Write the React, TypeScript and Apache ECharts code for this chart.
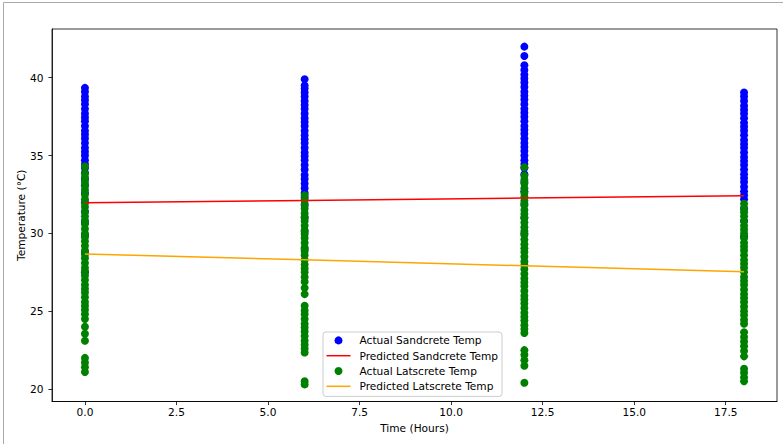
import React, { useEffect, useRef } from "react";
import * as echarts from "echarts";

// Time columns (hours)
const times = [0, 6, 12, 18];

// Actual Sandcrete temperatures per time column
const sandActual0 = [39.35, 39.1, 38.8, 38.55, 38.3, 38.0, 37.7, 37.45, 37.2, 36.9, 36.6, 36.35, 36.1, 35.8, 35.5, 35.25, 35.0, 34.7, 34.45, 34.2, 33.9, 33.5, 33.1, 32.6, 32.0, 31.4, 30.7, 29.9, 28.8, 27.5];
const sandActual6 = [39.9, 39.5, 39.3, 39.05, 38.8, 38.5, 38.25, 38.0, 37.7, 37.4, 37.15, 36.9, 36.6, 36.3, 36.05, 35.8, 35.5, 35.2, 34.95, 34.7, 34.4, 34.1, 33.75, 33.5, 33.2, 32.9, 32.6, 32.3, 31.8, 31.0, 30.1, 29.0];
const sandActual12 = [42.0, 41.4, 40.8, 40.5, 40.2, 39.95, 39.7, 39.4, 39.1, 38.85, 38.6, 38.3, 38.0, 37.75, 37.5, 37.2, 36.9, 36.65, 36.4, 36.1, 35.8, 35.55, 35.3, 35.0, 34.7, 34.45, 34.2, 33.8, 33.3, 32.7, 31.9, 31.0, 30.0];
const sandActual18 = [39.05, 38.8, 38.5, 38.2, 37.95, 37.7, 37.4, 37.1, 36.85, 36.6, 36.3, 36.0, 35.75, 35.5, 35.2, 34.9, 34.65, 34.4, 34.1, 33.8, 33.55, 33.3, 33.0, 32.7, 32.45, 32.2, 31.6, 30.8, 29.8];

// Actual Latscrete temperatures per time column
const latActual0 = [34.3, 33.85, 33.6, 33.3, 33.05, 32.8, 32.5, 32.2, 31.95, 31.7, 31.4, 31.1, 30.85, 30.6, 30.3, 30.0, 29.75, 29.5, 29.2, 28.9, 28.65, 28.4, 28.1, 27.8, 27.55, 27.3, 27.0, 26.7, 26.45, 26.2, 25.9, 25.6, 25.35, 25.1, 24.8, 24.5, 24.0, 23.55, 23.1, 22.0, 21.7, 21.4, 21.1];
const latActual6 = [32.45, 32.15, 31.9, 31.6, 31.3, 31.05, 30.8, 30.5, 30.2, 29.95, 29.7, 29.4, 29.1, 28.85, 28.6, 28.3, 28.0, 27.75, 27.5, 27.2, 26.9, 26.5, 26.1, 25.35, 25.05, 24.8, 24.5, 24.2, 23.95, 23.7, 23.4, 23.1, 22.85, 22.6, 22.35, 20.5, 20.3];
const latActual12 = [34.25, 33.7, 33.45, 33.2, 32.9, 32.6, 32.35, 32.1, 31.8, 31.5, 31.25, 31.0, 30.7, 30.4, 30.15, 29.9, 29.6, 29.3, 29.05, 28.8, 28.5, 28.2, 27.95, 27.7, 27.4, 27.1, 26.85, 26.6, 26.3, 26.0, 25.75, 25.5, 25.2, 24.9, 24.65, 24.4, 24.1, 23.85, 23.6, 22.5, 22.2, 21.85, 21.5, 20.4];
const latActual18 = [31.9, 31.6, 31.35, 31.1, 30.8, 30.5, 30.25, 30.0, 29.7, 29.4, 29.15, 28.9, 28.6, 28.3, 28.05, 27.8, 27.5, 27.2, 26.95, 26.7, 26.4, 26.1, 25.85, 25.6, 25.3, 25.0, 24.75, 24.45, 24.2, 23.65, 23.35, 23.05, 22.75, 22.45, 22.1, 21.3, 21.05, 20.75, 20.5];

// Predicted (regression) lines at each time column
const sandPredicted = [31.97, 32.12, 32.27, 32.42];
const latPredicted = [28.68, 28.30, 27.92, 27.54];

// Tick labels
const xTicks = [0, 2.5, 5, 7.5, 10, 12.5, 15, 17.5];
const yTicks = [20, 25, 30, 35, 40];

const seriesNames = [
  "Actual Sandcrete Temp",
  "Predicted Sandcrete Temp",
  "Actual Latscrete Temp",
  "Predicted Latscrete Temp",
];

const FONT = "DejaVu Sans";
const FS = 10.6;
const LINE_ICON = "path://M0,0H24V1.5H0Z";

function toPairs(cols: number[][]): [number, number][] {
  const out: [number, number][] = [];
  cols.forEach((vals, i) => vals.forEach((v) => out.push([times[i], v])));
  return out;
}

export default function App() {
  const ref = useRef<HTMLDivElement>(null);
  useEffect(() => {
    if (!ref.current) return;
    const chart = echarts.init(ref.current, undefined, { renderer: "svg" });
    const axisLine = { show: true, onZero: false, lineStyle: { color: "#000", width: 0.8 } };
    const tick = { show: true, length: 3.6, lineStyle: { color: "#000", width: 0.8 } };
    const nameTextStyle = { fontFamily: FONT, fontSize: FS, color: "#000" };
    chart.setOption({
      animation: false,
      backgroundColor: "#fff",
      grid: {
        left: 52,
        top: 29,
        right: 6,
        bottom: 42.5,
        show: true,
        borderColor: "#000",
        borderWidth: 0.8,
        containLabel: false,
      },
      xAxis: {
        type: "value",
        min: -0.9,
        max: 18.9,
        name: "Time (Hours)",
        nameLocation: "middle",
        nameGap: 21,
        nameMoveOverlap: false,
        nameTextStyle,
        axisLine,
        splitLine: { show: false },
        axisTick: { ...tick, customValues: xTicks },
        axisLabel: {
          customValues: xTicks,
          formatter: (v: number) => v.toFixed(1),
          margin: 5,
          fontFamily: FONT,
          fontSize: FS,
          color: "#000",
        },
      },
      yAxis: {
        type: "value",
        min: 19.2,
        max: 43.13,
        name: "Temperature (°C)",
        nameLocation: "middle",
        nameGap: 26,
        nameMoveOverlap: false,
        nameTextStyle,
        axisLine,
        splitLine: { show: false },
        axisTick: { ...tick, customValues: yTicks },
        axisLabel: {
          customValues: yTicks,
          formatter: (v: number) => String(v),
          margin: 8.5,
          fontFamily: FONT,
          fontSize: FS,
          color: "#000",
        },
      },
      legend: {
        orient: "vertical",
        left: 323,
        top: 332,
        itemWidth: 24,
        itemHeight: 8,
        itemGap: 3.3,
        padding: [2.4, 4, 4.1, 3.5],
        borderColor: "#cccccc",
        borderWidth: 1,
        borderRadius: 3,
        backgroundColor: "rgba(255,255,255,0.8)",
        textStyle: { fontFamily: FONT, fontSize: FS, color: "#000", lineHeight: 12, padding: [0, 0, 0, 4] },
        data: [
          { name: seriesNames[0], icon: "circle" },
          { name: seriesNames[1], icon: LINE_ICON },
          { name: seriesNames[2], icon: "circle" },
          { name: seriesNames[3], icon: LINE_ICON },
        ],
      },
      graphic: [
        { type: "line", shape: { x1: 3.5, y1: 2.5, x2: 783, y2: 2.5 }, style: { stroke: "#a8a8a8", lineWidth: 1 } },
        { type: "line", shape: { x1: 3.5, y1: 2.5, x2: 3.5, y2: 444 }, style: { stroke: "#a8a8a8", lineWidth: 1 } },
      ],
      series: [
        {
          name: seriesNames[0],
          type: "scatter",
          symbol: "circle",
          symbolSize: 8,
          itemStyle: { color: "#0000ff", opacity: 1 },
          data: toPairs([sandActual0, sandActual6, sandActual12, sandActual18]),
          z: 1,
        },
        {
          name: seriesNames[1],
          type: "line",
          symbol: "none",
          lineStyle: { color: "#ff0000", width: 1.5 },
          itemStyle: { color: "#ff0000" },
          data: times.map((t, i) => [t, sandPredicted[i]]),
          z: 5,
        },
        {
          name: seriesNames[2],
          type: "scatter",
          symbol: "circle",
          symbolSize: 8,
          itemStyle: { color: "#008000", opacity: 1 },
          data: toPairs([latActual0, latActual6, latActual12, latActual18]),
          z: 2,
        },
        {
          name: seriesNames[3],
          type: "line",
          symbol: "none",
          lineStyle: { color: "#ffa500", width: 1.5 },
          itemStyle: { color: "#ffa500" },
          data: times.map((t, i) => [t, latPredicted[i]]),
          z: 5,
        },
      ],
    });
    return () => chart.dispose();
  }, []);
  return (
    <div
      ref={ref}
      style={{ position: "absolute", left: 0, top: 0, width: 783, height: 444 }}
    />
  );
}
